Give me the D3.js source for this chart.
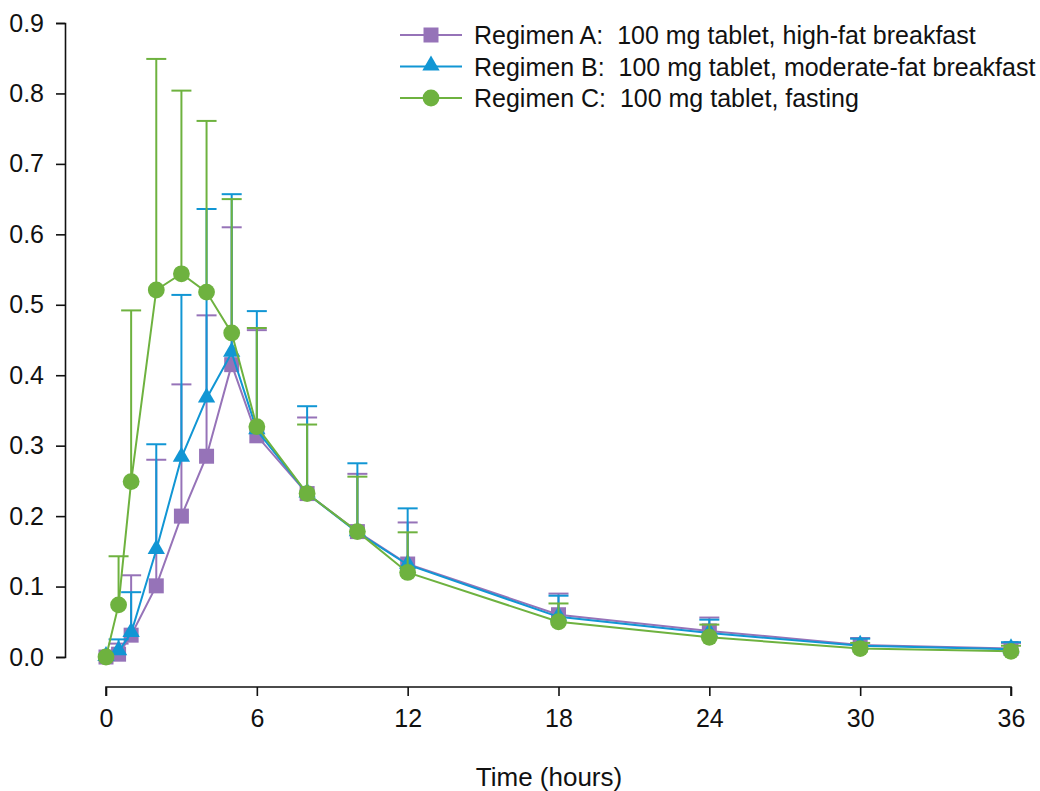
<!DOCTYPE html>
<html>
<head>
<meta charset="utf-8">
<script src="https://cdn.jsdelivr.net/npm/d3@7"></script>
<style>
  body { margin: 0; background: #fff; }
  text { font-family: "Liberation Sans", Arial, Helvetica, sans-serif; fill: #111; }
</style>
</head>
<body>
<div id="chart"></div>
<script>
// sampling times (hours)
const times = [0, 0.5, 1, 2, 3, 4, 5, 6, 8, 10, 12, 18, 24, 30, 36];

// mean concentrations + upper error bar ends
const meanA  = [0, 0.004, 0.031, 0.101, 0.200, 0.285, 0.415, 0.314, 0.232, 0.178, 0.132, 0.060, 0.037, 0.017, 0.012];
const upperA = [0, 0.019, 0.116, 0.280, 0.387, 0.485, 0.610, 0.464, 0.340, 0.260, 0.191, 0.090, 0.056, 0.027, 0.020];
const meanB  = [0, 0.008, 0.034, 0.152, 0.283, 0.367, 0.432, 0.322, 0.232, 0.177, 0.131, 0.057, 0.034, 0.016, 0.011];
const upperB = [0, 0.025, 0.092, 0.302, 0.514, 0.636, 0.657, 0.491, 0.356, 0.275, 0.211, 0.087, 0.053, 0.026, 0.021];
const meanC  = [0, 0.074, 0.249, 0.521, 0.544, 0.518, 0.460, 0.327, 0.232, 0.178, 0.120, 0.050, 0.028, 0.012, 0.008];
const upperC = [0, 0.143, 0.492, 0.849, 0.804, 0.761, 0.650, 0.467, 0.330, 0.256, 0.177, 0.076, 0.046, 0.020, 0.016];

const seriesNames = [
  "Regimen A:  100 mg tablet, high-fat breakfast",
  "Regimen B:  100 mg tablet, moderate-fat breakfast",
  "Regimen C:  100 mg tablet, fasting"
];
const xTicks = [0, 6, 12, 18, 24, 30, 36];
const yTicks = [0, 0.1, 0.2, 0.3, 0.4, 0.5, 0.6, 0.7, 0.8, 0.9];

const colors = ["#9673b8", "#1196d4", "#6eb23f"];
const symbols = [d3.symbolSquare, d3.symbolTriangle, d3.symbolCircle];
const symSizes = [225, 130, 222];

let width = 1040, height = 791;

let svg = d3.select("#chart").append("svg")
    .attr("width", width)
    .attr("height", height);

let x = d3.scaleLinear().domain([0, 36]).range([106, 1011]);
let y = d3.scaleLinear().domain([0, 0.9]).range([657, 23]);

// y axis (offset to the left)
let yAxis = svg.append("g")
    .attr("transform", "translate(65,0)")
    .call(d3.axisLeft(y).tickValues(yTicks).tickFormat(d3.format(".1f")).tickSize(9).tickPadding(12));

// x axis (offset below)
let xAxis = svg.append("g")
    .attr("transform", "translate(0,687)")
    .call(d3.axisBottom(x).tickValues(xTicks).tickSize(9).tickPadding(13));

[yAxis, xAxis].forEach(a => {
  a.selectAll("path").attr("stroke", "#111").attr("stroke-width", 1.6);
  a.selectAll("line").attr("stroke", "#111").attr("stroke-width", 1.6);
  a.selectAll("text").style("font-size", "25px").attr("fill", "#111");
});
xAxis.select(".domain").attr("d", "M" + x(0) + ",9V0H" + x(36) + "V9");

svg.append("text")
    .attr("x", 549)
    .attr("y", 786)
    .attr("text-anchor", "middle")
    .style("font-size", "26px")
    .text("Time (hours)");

const means = [meanA, meanB, meanC];
const uppers = [upperA, upperB, upperC];

let line = d3.line()
    .x(d => x(d.t))
    .y(d => y(d.v));

means.forEach((m, i) => {
  let pts = times.map((t, j) => ({ t: t, v: m[j], u: uppers[i][j] }));
  let g = svg.append("g");

  // upper error bars
  g.selectAll("line.err")
    .data(pts.filter(d => d.u > d.v))
    .enter().append("line")
    .attr("x1", d => x(d.t)).attr("x2", d => x(d.t))
    .attr("y1", d => y(d.v)).attr("y2", d => y(d.u))
    .attr("stroke", colors[i]).attr("stroke-width", 2);
  g.selectAll("line.cap")
    .data(pts.filter(d => d.u > d.v))
    .enter().append("line")
    .attr("x1", d => x(d.t) - 10).attr("x2", d => x(d.t) + 10)
    .attr("y1", d => y(d.u)).attr("y2", d => y(d.u))
    .attr("stroke", colors[i]).attr("stroke-width", 2);

  g.append("path")
    .datum(pts)
    .attr("d", line)
    .attr("fill", "none")
    .attr("stroke", colors[i])
    .attr("stroke-width", 2);

  g.selectAll("path.mk")
    .data(pts)
    .enter().append("path")
    .attr("d", d3.symbol().type(symbols[i]).size(symSizes[i]))
    .attr("transform", d => "translate(" + x(d.t) + "," + (y(d.v) + (i == 1 ? -1 : 0)) + ")")
    .attr("fill", colors[i]);
});

// legend
let legend = svg.append("g");
seriesNames.forEach((name, i) => {
  let ly = 35 + i * 31.5;
  legend.append("line")
    .attr("x1", 400).attr("x2", 462)
    .attr("y1", ly).attr("y2", ly)
    .attr("stroke", colors[i]).attr("stroke-width", 2);
  legend.append("path")
    .attr("d", d3.symbol().type(symbols[i]).size(symSizes[i]))
    .attr("transform", "translate(431," + (ly + (i == 1 ? -1 : 0)) + ")")
    .attr("fill", colors[i]);
  legend.append("text")
    .attr("x", 474)
    .attr("y", ly)
    .attr("dy", "0.36em")
    .style("font-size", "25px")
    .style("white-space", "pre")
    .attr("xml:space", "preserve")
    .text(name);
});
</script>
</body>
</html>
